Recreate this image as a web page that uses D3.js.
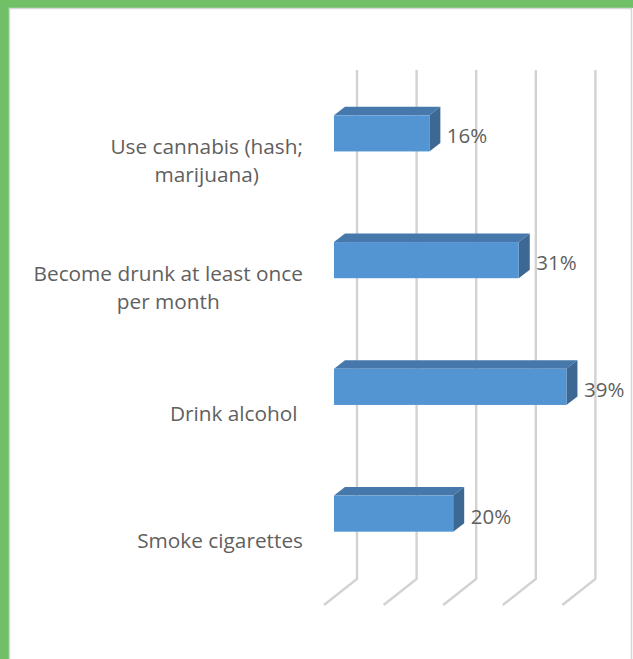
<!DOCTYPE html>
<html>
<head>
<meta charset="utf-8">
<script src="https://cdn.jsdelivr.net/npm/d3@7"></script>
<style>
  html, body { margin: 0; padding: 0; background: #ffffff; }
  svg { display: block; }
  text { font-family: "Open Sans", "Noto Sans", sans-serif; fill: #5f5f5f; }
</style>
</head>
<body>
<script>
// Share of young people who report each behaviour (percent)
const categories = [
  "Use cannabis (hash; marijuana)",
  "Become drunk at least once per month",
  "Drink alcohol",
  "Smoke cigarettes"
];
const labelLines = [
  ["Use cannabis (hash;", "marijuana)"],
  ["Become drunk at least once", "per month"],
  ["Drink alcohol "],
  ["Smoke cigarettes"]
];
const values = [16, 31, 39, 20];
const gridValues = [0, 10, 20, 30, 40];

const W = 633, H = 659;
const svg = d3.select("body").append("svg")
  .attr("width", W).attr("height", H);

// frame: green band on top/left, thin grey chart-area border
svg.append("rect").attr("width", W).attr("height", H).attr("fill", "#ffffff");
svg.append("rect").attr("x", 0).attr("y", 0).attr("width", W).attr("height", 8).attr("fill", "#71c068");
svg.append("rect").attr("x", 0).attr("y", 0).attr("width", 9).attr("height", H).attr("fill", "#71c068");
svg.append("path")
  .attr("d", `M9.5,${H} V8.5 H631.5 V${H}`)
  .attr("fill", "none").attr("stroke", "#d6d6d6").attr("stroke-width", 1.5);

// value scale (width only); origins for the back wall and the bar front plane
const x = d3.scaleLinear().domain([0, 40]).range([0, 238.4]);
const backX0 = 357, barX0 = 334;
const wallTop = 70, wallBottom = 579;
const floorDx = -33, floorDy = 26;
const depthDx = 11, depthDy = -8.5;

const y = d3.scaleBand()
  .domain(categories)
  .range([70, 577])
  .paddingInner(0.715)
  .paddingOuter(0.3575);

// gridlines on the back wall, continuing across the floor
const grid = svg.append("g")
  .attr("fill", "none").attr("stroke", "#d2d2d2").attr("stroke-width", 2.4);
grid.selectAll("path").data(gridValues).join("path")
  .attr("d", v => {
    const gx = backX0 + x(v);
    return `M${gx},${wallTop} V${wallBottom} L${gx + floorDx},${wallBottom + floorDy}`;
  });

// 3D bars
const bars = svg.append("g");
categories.forEach((c, i) => {
  const x0 = barX0, x1 = barX0 + x(values[i]);
  const y0 = y(c), y1 = y(c) + y.bandwidth();
  const g = bars.append("g");
  g.append("path")
    .attr("d", `M${x0},${y0} L${x1},${y0} L${x1 + depthDx},${y0 + depthDy} L${x0 + depthDx},${y0 + depthDy} Z`)
    .attr("fill", "#4678ab");
  g.append("path")
    .attr("d", `M${x1},${y0} L${x1 + depthDx},${y0 + depthDy} L${x1 + depthDx},${y1 + depthDy} L${x1},${y1} Z`)
    .attr("fill", "#3d6893");
  g.append("rect")
    .attr("x", x0).attr("y", y0).attr("width", x1 - x0).attr("height", y1 - y0)
    .attr("fill", "#5394d3");
});

// value labels
svg.append("g").selectAll("text").data(categories).join("text")
  .attr("x", (c, i) => barX0 + x(values[i]) + 17.5)
  .attr("y", c => y(c) + y.bandwidth() / 2 + 10)
  .attr("font-size", 20.5)
  .text((c, i) => values[i] + "%");

// category labels: lines centred on each other, block right-aligned
const labelRight = 303, lineGap = 28;
categories.forEach((c, i) => {
  const lines = labelLines[i];
  const g = svg.append("g");
  const ts = g.selectAll("text").data(lines).join("text")
    .attr("font-size", 20.8)
    .attr("text-anchor", "middle")
    .style("white-space", "pre")
    .text(d => d);
  let maxW = 0;
  ts.each(function () { maxW = Math.max(maxW, this.getComputedTextLength()); });
  const cy = y(c) + y.bandwidth() / 2 + 27;
  ts.attr("x", labelRight - maxW / 2)
    .attr("y", (d, k) => cy + (k - (lines.length - 1) / 2) * lineGap + 7.5);
});
</script>
</body>
</html>
